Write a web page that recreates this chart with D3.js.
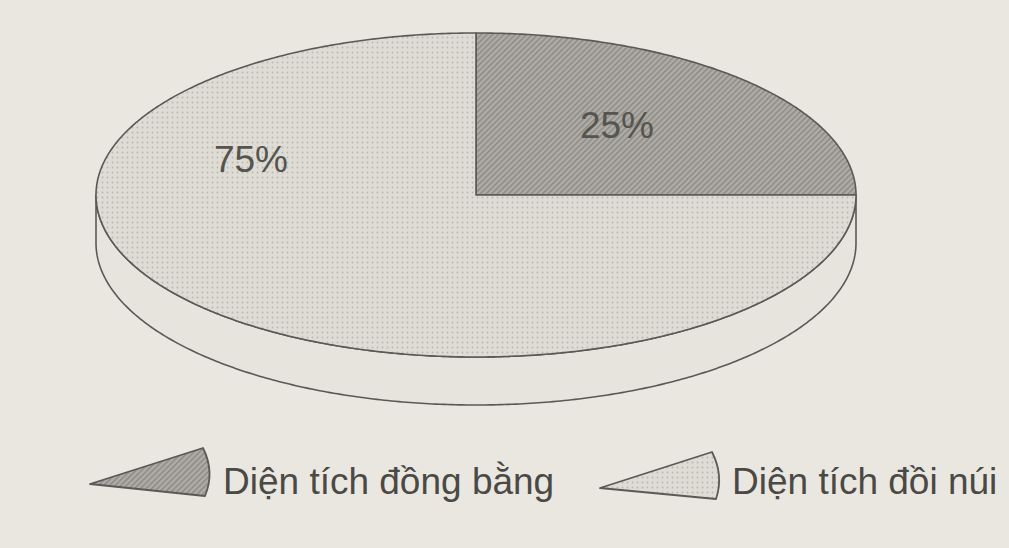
<!DOCTYPE html>
<html><head><meta charset="utf-8">
<script src="https://cdn.jsdelivr.net/npm/d3@7"></script>
<style>html,body{margin:0;padding:0;background:#e9e7e0;}svg{display:block;}</style>
</head><body>
<svg id="c" width="1009" height="548"></svg>
<script>
const categories = ["Diện tích đồng bằng", "Diện tích đồi núi"];
const values = [25, 75];
const labels = ["25%", "75%"];

const W = 1009, H = 548;
const svg = d3.select("#c");
const cx = 476, cy = 195, rx = 380, ry = 162, depth = 48;
const stroke = "#5a5956";

const defs = svg.append("defs");
const ph = defs.append("pattern").attr("id","hatch").attr("patternUnits","userSpaceOnUse")
  .attr("width",4).attr("height",4).attr("patternTransform","rotate(-45)");
ph.append("rect").attr("width",4).attr("height",4).attr("fill","#aeaca5");
ph.append("rect").attr("width",4).attr("height",1.4).attr("fill","#8a8882");
const pd = defs.append("pattern").attr("id","dots").attr("patternUnits","userSpaceOnUse")
  .attr("width",5).attr("height",5);
pd.append("rect").attr("width",5).attr("height",5).attr("fill","#dedcd5");
pd.append("circle").attr("cx",2.5).attr("cy",2.5).attr("r",0.9).attr("fill","#b9b7b0");

const fills = ["url(#hatch)", "url(#dots)"];

const pie = d3.pie().sort(null).value(d => d)(values);
const pt = a => [cx + rx*Math.sin(a), cy - ry*Math.cos(a)];
const line = d3.line();

function arcPts(a0, a1, dy) {
  const n = Math.max(8, Math.ceil(Math.abs(a1-a0)/0.01));
  return d3.range(n+1).map(i => { const a = a0 + (a1-a0)*i/n; const p = pt(a); return [p[0], p[1]+dy]; });
}

const s0 = Math.PI/2, s1 = 3*Math.PI/2;
const sidePts = arcPts(s0, s1, 0).concat(arcPts(s1, s0, depth));
svg.append("path").attr("d", line(sidePts) + "Z")
  .attr("fill","#e6e4dd").attr("stroke",stroke).attr("stroke-width",1.6).attr("stroke-linejoin","round");

pie.forEach((d,i) => {
  const pts = [[cx,cy]].concat(arcPts(d.startAngle, d.endAngle, 0));
  svg.append("path").attr("d", line(pts)+"Z")
    .attr("fill", fills[i]).attr("stroke", stroke).attr("stroke-width",1.6).attr("stroke-linejoin","round");
});

const labelPos = [[617,138],[251,172]];
pie.forEach((d,i) => {
  svg.append("text").attr("x",labelPos[i][0]).attr("y",labelPos[i][1])
    .attr("text-anchor","middle").attr("font-family","Liberation Sans, Arial, sans-serif")
    .attr("font-size",37).attr("fill","#55544f").text(labels[i]);
});

const legend = [
  {tip:[90,484], top:[203,448], bot:[205,496], tx:223},
  {tip:[600,488], top:[712,452], bot:[716,499], tx:732}
];
legend.forEach((L,i) => {
  const p = d3.path();
  p.moveTo(L.tip[0], L.tip[1]);
  p.lineTo(L.top[0], L.top[1]);
  p.quadraticCurveTo(L.top[0]+12, (L.top[1]+L.bot[1])/2, L.bot[0], L.bot[1]);
  p.closePath();
  svg.append("path").attr("d", p.toString()).attr("fill", fills[i])
    .attr("stroke", stroke).attr("stroke-width",1.8).attr("stroke-linejoin","round");
  svg.append("text").attr("x", L.tx).attr("y", 494)
    .attr("font-family","Liberation Sans, Arial, sans-serif").attr("font-size",37)
    .attr("fill","#4a4945").text(categories[i]);
});
</script>
</body></html>
